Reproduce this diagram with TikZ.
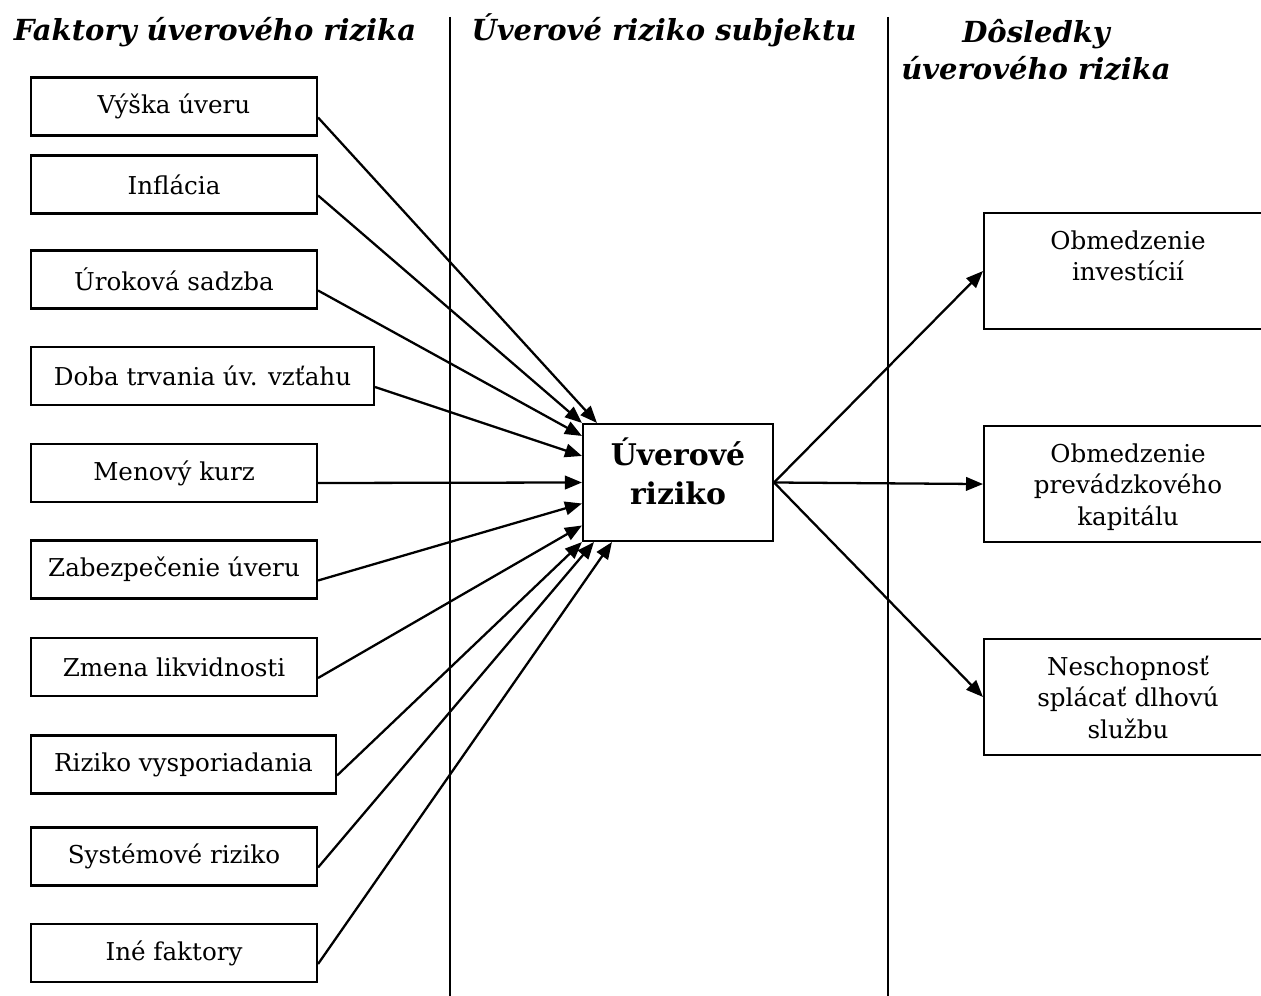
\documentclass[tikz,border=0pt]{standalone}
\usepackage{fontspec}
\setmainfont{DejaVu Serif}
\usetikzlibrary{arrows.meta,positioning,calc}
\tikzset{
  head/.style={font=\fontsize{16.5}{21.5}\selectfont\bfseries\itshape,align=center,inner sep=0pt},
  sep/.style={line width=0.9pt},
  faktor/.style={draw,line width=1.2pt,anchor=west,minimum width=5.72cm,minimum height=1.16cm,inner sep=0pt,font=\fontsize{14}{18}\selectfont},
  % jadro, dosledok: fixed text height+depth, text placed from the top
  jadro/.style={draw,line width=1.2pt,text width=3.8cm,align=center,inner sep=0pt,
    text height=0.82cm,text depth=1.52cm,font=\fontsize{17}{22.5}\selectfont\bfseries},
  dosledok/.style={draw,line width=1.2pt,anchor=north west,text width=5.5cm,align=center,inner xsep=0.13cm,inner ysep=0pt,
    text height=0.72cm,text depth=1.6cm,font=\fontsize{14}{18}\selectfont},
  arr/.style={-{Triangle[length=0.34cm,width=0.27cm]},line width=1.3pt},
}
\begin{document}
\begin{tikzpicture}[x=0.02cm,y=-0.02cm]
  \useasboundingbox (0,0) rectangle (1261,996);
  % column heads
  \node[head,anchor=base] (hfak) at (215,41) {Faktory úverového rizika};
  \node[head,anchor=base] (hsub) at (664,41) {Úverové riziko subjektu};
  \node[head,anchor=base] (hdos) at (1036,80) {Dôsledky\\úverového rizika};
  \draw[sep] (450,17) -- (450,996);
  \draw[sep] (888,17) -- (888,996);
  % factors
  \node[faktor] (vys) at (30,106.5) {Výška úveru};
  \node[faktor] (inf) at (30,184.5) {Inflácia};
  \node[faktor] (uro) at (30,279.5) {Úroková sadzba};
  \node[faktor,minimum width=6.86cm] (dob) at (30,376) {Doba trvania úv. vzťahu};
  \node[faktor] (men) at (30,473) {Menový kurz};
  \node[faktor] (zab) at (30,569.5) {Zabezpečenie úveru};
  \node[faktor] (zme) at (30,667) {Zmena likvidnosti};
  \node[faktor,minimum width=6.1cm] (riz) at (30,764.5) {Riziko vysporiadania};
  \node[faktor] (sys) at (30,856.5) {Systémové riziko};
  \node[faktor] (ine) at (30,953) {Iné faktory};
  % credit risk
  \node[jadro] (uvr) at (678,482.5) {Úverové\\riziko};
  % consequences
  \node[dosledok] (obi) at (983,212) {Obmedzenie\\investícií};
  \node[dosledok] (obk) at (983,425) {Obmedzenie\\prevádzkového\\kapitálu};
  \node[dosledok] (nes) at (983,638) {Neschopnosť\\splácať dlhovú\\službu};
  % arrows in
  \draw[arr] ($(vys.east)+(0,11)$) -- ($(uvr.north west)+(15,0)$);
  \draw[arr] ($(inf.east)+(0,11)$) -- (uvr.north west);
  \draw[arr] ($(uro.east)+(0,11)$) -- ($(uvr.north west)+(0,13)$);
  \draw[arr] ($(dob.east)+(0,11)$) -- ($(uvr.north west)+(0,33)$);
  \draw[arr] ($(men.east)+(0,10)$) -- (uvr.west);
  \draw[arr] ($(zab.east)+(0,11)$) -- ($(uvr.west)+(0,21)$);
  \draw[arr] ($(zme.east)+(0,11)$) -- ($(uvr.west)+(0,43)$);
  \draw[arr] ($(riz.east)+(0,11)$) -- (uvr.south west);
  \draw[arr] ($(sys.east)+(0,11)$) -- ($(uvr.south west)+(12,0)$);
  \draw[arr] ($(ine.east)+(0,11)$) -- ($(uvr.south west)+(30,0)$);
  % arrows out
  \draw[arr] (uvr.east) -- (obi.west);
  \draw[arr] (uvr.east) -- (obk.west);
  \draw[arr] (uvr.east) -- (nes.west);
\end{tikzpicture}
\end{document}
